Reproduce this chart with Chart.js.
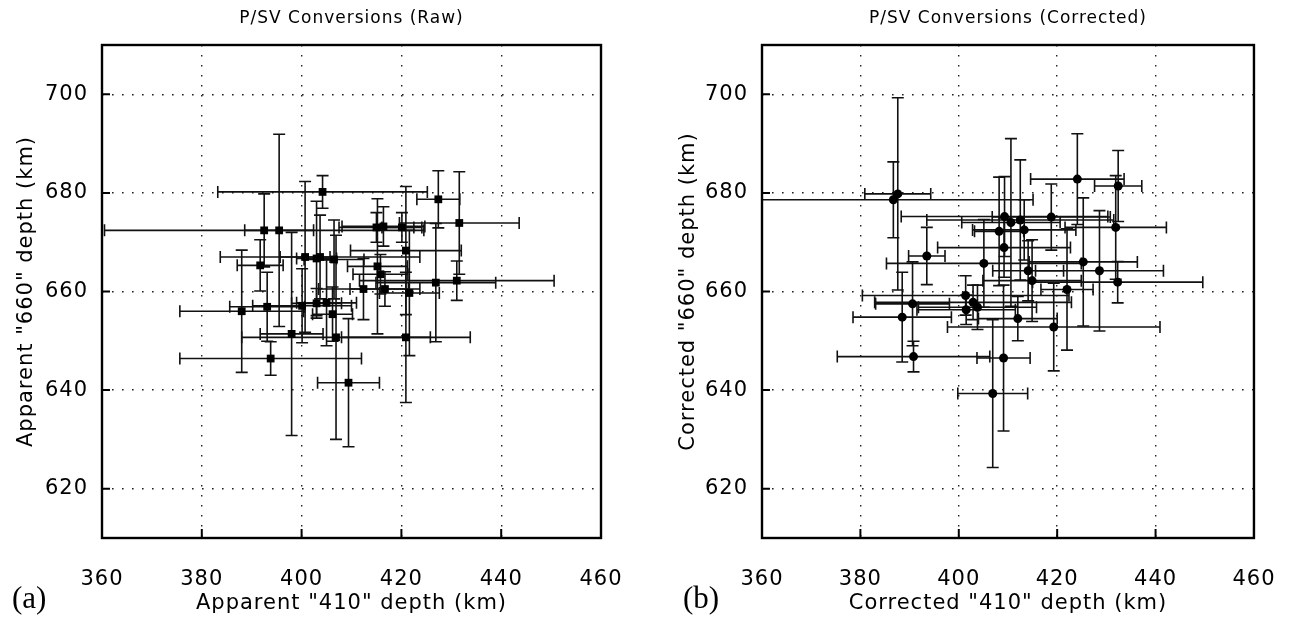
<!DOCTYPE html>
<html lang="en">
<head>
<meta charset="UTF-8" />
<title>P/SV Conversions</title>
<script src="https://cdn.jsdelivr.net/npm/chart.js@4"></script>
<style>
  body { margin: 0; background: #fff; }
  canvas { position: absolute; top: 0; }
</style>
</head>
<body>
<canvas id="rawChart" width="651" height="620" style="left:0"></canvas>
<canvas id="corrChart" width="652" height="620" style="left:651px"></canvas>
<script>
// axis ticks (km)
const xTicks = [360, 380, 400, 420, 440, 460];
const yTicks = [620, 640, 660, 680, 700];

// (a) raw picks: "410" depth, "660" depth, and their half error bars
const rawX = [404.2, 427.4, 431.6, 431.1, 426.9, 392.5, 395.5, 415.0, 416.4, 420.1, 391.7, 400.7, 403.0, 403.7, 406.5, 420.9,
  415.2, 415.8, 412.4, 416.7, 421.6, 388.0, 393.1, 400.1, 403.0, 405.0, 406.2, 398.0, 406.9, 420.9, 393.8, 409.4];
const rawY = [680.2, 678.7, 673.9, 662.2, 661.8, 672.4, 672.4, 673.0, 673.2, 673.0, 665.3, 667.0, 666.7, 667.0, 666.5, 668.3,
  665.1, 663.5, 660.5, 660.5, 659.7, 656.0, 656.9, 657.1, 657.6, 657.7, 655.4, 651.4, 650.7, 650.7, 646.4, 641.5];
const rawXErr = [21, 4.3, 12, 19.5, 12, 32, 6.9, 7.5, 8.3, 4, 4.6, 5, 4, 20, 6, 11.1,
  6, 5.5, 9, 7, 6, 12.4, 7.5, 9.9, 5, 6, 4, 6.3, 18.9, 12.9, 18.2, 6.2];
const rawYErr = [3.3, 5.8, 10.4, 4, 12, 7.4, 19.5, 3, 4, 3, 5.2, 15.3, 11.6, 8.5, 8, 13,
  13.7, 4, 6.2, 3.5, 12.7, 12.4, 7, 7.5, 3, 8.7, 5.5, 20.6, 20.7, 13.2, 3.4, 13];

// (b) corrected picks
const corrX = [387.6, 386.7, 424.1, 432.4, 409.3, 410.6, 412.5, 418.8, 408.2, 413.3, 431.9, 409.2, 393.5, 405.1, 425.3, 428.6,
  414.1, 414.9, 432.3, 422.0, 401.4, 390.6, 401.5, 402.9, 403.8, 388.5, 412.0, 419.3, 390.8, 409.1, 406.9];
const corrY = [679.8, 678.6, 682.8, 681.4, 675.2, 674.0, 674.5, 675.1, 672.2, 672.5, 673.0, 668.9, 667.2, 665.7, 666.0, 664.2,
  664.2, 662.2, 661.9, 660.4, 659.2, 657.5, 656.3, 657.8, 656.8, 654.8, 654.5, 652.8, 646.8, 646.5, 639.3];
const corrXErr = [6.7, 28.4, 9.5, 4.8, 21, 10, 19, 12, 5, 10.5, 10.3, 13.5, 3.7, 19.8, 11, 13,
  7.2, 10, 17.3, 5.3, 21, 7.5, 10, 20, 12, 10, 8, 21.6, 15.5, 5.4, 7.1];
const corrYErr = [19.5, 7.7, 9.2, 7.2, 8.1, 17, 12.2, 6.7, 11, 6.1, 10.5, 6, 5.8, 8.9, 13, 12.2,
  6.1, 8.3, 4.2, 12.3, 4, 8.5, 3, 3.5, 4.5, 9.1, 4.5, 8.9, 3.1, 14.8, 15];

const FONT = "'DejaVu Sans', sans-serif";

// error bars, frame, inward ticks, title and panel letter
const paperStyle = {
  id: 'paperStyle',
  beforeDraw(chart) {
    chart.ctx.letterSpacing = '1px';
  },
  beforeDatasetsDraw(chart) {
    const ctx = chart.ctx, a = chart.chartArea;
    const xs = chart.scales.x, ys = chart.scales.y;
    const cap = 6;
    ctx.save();
    ctx.beginPath();
    ctx.rect(a.left, a.top, a.width, a.height);
    ctx.clip();
    ctx.strokeStyle = '#111';
    ctx.lineWidth = 1.6;
    chart.data.datasets[0].data.forEach(p => {
      const px = xs.getPixelForValue(p.x), py = ys.getPixelForValue(p.y);
      const x0 = xs.getPixelForValue(p.x - p.xe), x1 = xs.getPixelForValue(p.x + p.xe);
      const y0 = ys.getPixelForValue(p.y - p.ye), y1 = ys.getPixelForValue(p.y + p.ye);
      ctx.beginPath();
      ctx.moveTo(x0, py); ctx.lineTo(x1, py);
      ctx.moveTo(x0, py - cap); ctx.lineTo(x0, py + cap);
      ctx.moveTo(x1, py - cap); ctx.lineTo(x1, py + cap);
      ctx.moveTo(px, y0); ctx.lineTo(px, y1);
      ctx.moveTo(px - cap, y0); ctx.lineTo(px + cap, y0);
      ctx.moveTo(px - cap, y1); ctx.lineTo(px + cap, y1);
      ctx.stroke();
    });
    ctx.restore();
  },
  afterDraw(chart, args, opts) {
    const ctx = chart.ctx, a = chart.chartArea;
    ctx.save();
    ctx.strokeStyle = '#000';
    ctx.lineWidth = 2.4;
    ctx.strokeRect(a.left, a.top, a.width, a.height);
    ctx.lineWidth = 2;
    ctx.beginPath();
    xTicks.forEach(v => {
      const px = chart.scales.x.getPixelForValue(v);
      ctx.moveTo(px, a.bottom); ctx.lineTo(px, a.bottom - 9);
    });
    yTicks.forEach(v => {
      const py = chart.scales.y.getPixelForValue(v);
      ctx.moveTo(a.left, py); ctx.lineTo(a.left + 8, py);
    });
    ctx.stroke();

    ctx.fillStyle = '#000';
    ctx.letterSpacing = '1px';
    ctx.font = '17px ' + FONT;
    ctx.textAlign = 'center';
    ctx.textBaseline = 'middle';
    ctx.fillText(opts.title, (a.left + a.right) / 2, 19);

    ctx.letterSpacing = '0px';
    ctx.font = "31px 'Liberation Serif', serif";
    ctx.textAlign = 'left';
    ctx.fillText(opts.letter, opts.letterX, 600);
    ctx.restore();
  }
};

function makeChart(id, xs, ys, xe, ye, opt) {
  const points = xs.map((x, i) => ({ x: x, y: ys[i], xe: xe[i], ye: ye[i] }));
  return new Chart(document.getElementById(id), {
    type: 'scatter',
    data: {
      datasets: [{
        data: points,
        pointStyle: opt.marker,
        pointRadius: opt.radius,
        pointHoverRadius: opt.radius,
        backgroundColor: '#000',
        borderColor: '#000',
        borderWidth: 0
      }]
    },
    options: {
      responsive: false,
      animation: false,
      events: [],
      layout: { padding: { left: 0, right: opt.padRight, top: 45, bottom: 0 } },
      plugins: {
        legend: { display: false },
        tooltip: { enabled: false },
        paperStyle: { title: opt.title, letter: opt.letter, letterX: opt.letterX }
      },
      scales: {
        x: {
          type: 'linear',
          min: 360,
          max: 460,
          afterBuildTicks: s => { s.ticks = xTicks.map(v => ({ value: v })); },
          afterFit: s => { s.height = 82; },
          grid: { color: '#222', lineWidth: 1.4, drawTicks: false },
          border: { display: false, dash: [1.6, 8.4] },
          ticks: { color: '#000', padding: 29, font: { family: FONT, size: 21 } },
          title: {
            display: true,
            text: opt.xTitle,
            color: '#000',
            padding: { top: 0, bottom: 4 },
            font: { family: FONT, size: 21 }
          }
        },
        y: {
          type: 'linear',
          min: 610,
          max: 710,
          afterBuildTicks: s => { s.ticks = yTicks.map(v => ({ value: v })); },
          afterFit: s => { s.width = opt.yWidth; },
          grid: { color: '#222', lineWidth: 1.4, drawTicks: false },
          border: { display: false, dash: [1.6, 8.4] },
          ticks: { color: '#000', padding: 14, font: { family: FONT, size: 21 } },
          title: {
            display: true,
            text: opt.yTitle,
            color: '#000',
            padding: { top: opt.yTitlePad, bottom: 0 },
            font: { family: FONT, size: 21 }
          }
        }
      }
    },
    plugins: [paperStyle]
  });
}

makeChart('rawChart', rawX, rawY, rawXErr, rawYErr, {
  title: 'P/SV Conversions (Raw)',
  xTitle: 'Apparent "410" depth (km)',
  yTitle: 'Apparent "660" depth (km)',
  letter: '(a)', letterX: 12,
  marker: 'rect', radius: 5.5,
  yWidth: 102, padRight: 50, yTitlePad: 14
});

makeChart('corrChart', corrX, corrY, corrXErr, corrYErr, {
  title: 'P/SV Conversions (Corrected)',
  xTitle: 'Corrected "410" depth (km)',
  yTitle: 'Corrected "660" depth (km)',
  letter: '(b)', letterX: 32,
  marker: 'circle', radius: 4.5,
  yWidth: 111, padRight: 41, yTitlePad: 25
});
</script>
</body>
</html>
